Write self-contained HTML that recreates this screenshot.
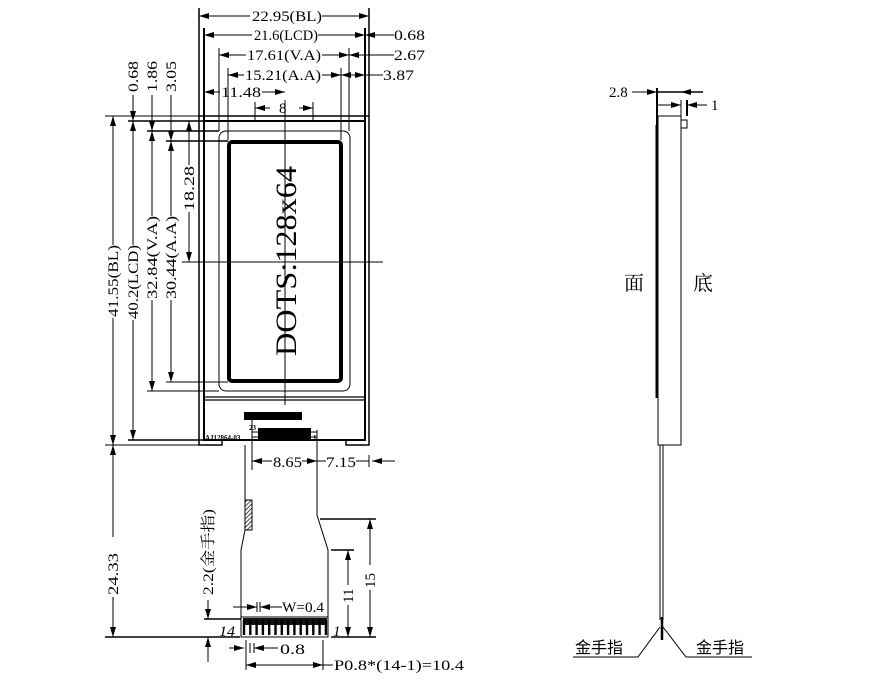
<!DOCTYPE html>
<html><head><meta charset="utf-8"><style>
html,body{margin:0;padding:0;background:#fff;}
svg{display:block;}
text{font-family:"Liberation Serif","Noto Serif CJK SC",serif;fill:#000;}
.c{font-family:"Liberation Sans","Noto Sans CJK SC",sans-serif;}
</style></head><body>
<svg width="870" height="699" viewBox="0 0 870 699" xmlns="http://www.w3.org/2000/svg">
<defs>
<marker id="a" viewBox="0 0 10 6" refX="10" refY="3" markerWidth="10" markerHeight="6" orient="auto-start-reverse" markerUnits="userSpaceOnUse"><path d="M0,0 L10,3 L0,6z" fill="#000"/></marker>
<pattern id="h" width="3" height="3" patternUnits="userSpaceOnUse" patternTransform="rotate(45)"><line x1="0" y1="0" x2="0" y2="3" stroke="#000" stroke-width="1.4"/></pattern>
</defs>
<g stroke="#000" fill="none" stroke-width="1">
<path d="M199,8 V445 H222 V440" stroke-width="1.5"/>
<path d="M369,8 V445 H346 V440" stroke-width="1.5"/>
<line x1="199" y1="116" x2="369" y2="116" stroke-width="1.5"/>
<path d="M204,28 V440 H365 V28" stroke-width="2"/>
<line x1="204" y1="121" x2="365" y2="121" stroke-width="2"/>
<line x1="204" y1="397" x2="365" y2="397" stroke-width="1.2"/>
<line x1="204" y1="400" x2="365" y2="400" stroke-width="1.2"/>
<rect x="219" y="131" width="131" height="260" rx="7" stroke-width="1"/>
<line x1="219" y1="48" x2="219" y2="131"/>
<line x1="349" y1="48" x2="349" y2="131"/>
<rect x="229" y="142" width="112" height="239" rx="3" stroke-width="4"/>
<line x1="228" y1="68" x2="228" y2="140"/>
<line x1="341" y1="68" x2="341" y2="140"/>
<line x1="285" y1="100" x2="285" y2="405"/>
<line x1="182" y1="262" x2="383" y2="262"/>
<line x1="255" y1="102" x2="255" y2="120"/>
<line x1="313" y1="102" x2="313" y2="120"/>
<line x1="105" y1="116" x2="199" y2="116"/>
<line x1="128" y1="121" x2="204" y2="121" stroke-width="1.5"/>
<line x1="147" y1="131" x2="219" y2="131" stroke-width="1.5"/>
<line x1="166" y1="141" x2="228" y2="141" stroke-width="1.5"/>
<line x1="147" y1="391" x2="219" y2="391"/>
<line x1="166" y1="382" x2="228" y2="382"/>
<line x1="128" y1="440" x2="204" y2="440" stroke-width="1.5"/>
<line x1="105" y1="445" x2="199" y2="445"/>
<line x1="199" y1="16" x2="250" y2="16" marker-start="url(#a)"/>
<line x1="322" y1="16" x2="369" y2="16" marker-end="url(#a)"/>
<line x1="204" y1="35" x2="252" y2="35" marker-start="url(#a)"/>
<line x1="318" y1="35" x2="365" y2="35" marker-end="url(#a)"/>
<line x1="365" y1="35" x2="394" y2="35" marker-start="url(#a)"/>
<line x1="219" y1="55" x2="246" y2="55" marker-start="url(#a)"/>
<line x1="322" y1="55" x2="349" y2="55" marker-end="url(#a)"/>
<line x1="349" y1="55" x2="394" y2="55" marker-start="url(#a)"/>
<line x1="228" y1="75" x2="244" y2="75" marker-start="url(#a)"/>
<line x1="322" y1="75" x2="341" y2="75" marker-end="url(#a)"/>
<line x1="341" y1="75" x2="365" y2="75" marker-start="url(#a)" marker-end="url(#a)"/>
<line x1="365" y1="75" x2="383" y2="75"/>
<line x1="204" y1="92" x2="220" y2="92" marker-start="url(#a)"/>
<line x1="262" y1="92" x2="285" y2="92" marker-end="url(#a)"/>
<line x1="255" y1="108" x2="270" y2="108" marker-start="url(#a)"/>
<line x1="299" y1="108" x2="313" y2="108" marker-end="url(#a)"/>
<line x1="133" y1="95" x2="133" y2="121" marker-end="url(#a)"/>
<line x1="152" y1="95" x2="152" y2="131" marker-end="url(#a)"/>
<line x1="171" y1="95" x2="171" y2="141" marker-end="url(#a)"/>
<line x1="113" y1="116" x2="113" y2="245" marker-start="url(#a)"/>
<line x1="113" y1="318" x2="113" y2="445" marker-end="url(#a)"/>
<line x1="133" y1="121" x2="133" y2="245" marker-start="url(#a)"/>
<line x1="133" y1="320" x2="133" y2="440" marker-end="url(#a)"/>
<line x1="152" y1="131" x2="152" y2="216" marker-start="url(#a)"/>
<line x1="152" y1="300" x2="152" y2="391" marker-end="url(#a)"/>
<line x1="171" y1="141" x2="171" y2="216" marker-start="url(#a)"/>
<line x1="171" y1="300" x2="171" y2="382" marker-end="url(#a)"/>
<line x1="189" y1="121" x2="189" y2="165" marker-start="url(#a)"/>
<line x1="189" y1="212" x2="189" y2="262" marker-end="url(#a)"/>
<line x1="113" y1="445" x2="113" y2="537" marker-start="url(#a)"/>
<line x1="113" y1="597" x2="113" y2="637" marker-end="url(#a)"/>
<line x1="105" y1="637" x2="240" y2="637" stroke-width="1.5"/>
<line x1="245" y1="445" x2="245" y2="530"/>
<line x1="252" y1="420" x2="252" y2="470"/>
<path d="M245,530 L241,550 V637"/>
<path d="M317,430 V515 L328,550 V617"/>
<rect x="245" y="500" width="7" height="30" fill="url(#h)"/>
<line x1="252" y1="461" x2="272" y2="461" marker-start="url(#a)"/>
<line x1="302" y1="461" x2="317" y2="461" marker-end="url(#a)"/>
<line x1="317" y1="461" x2="326" y2="461"/>
<line x1="356" y1="461" x2="369" y2="461"/>
<line x1="369" y1="455" x2="369" y2="467"/>
<line x1="395" y1="461" x2="372" y2="461" marker-end="url(#a)"/>
<line x1="320" y1="519" x2="376" y2="519" stroke-width="1.5"/>
<line x1="331" y1="550" x2="354" y2="550" stroke-width="1.5"/>
<line x1="331" y1="637" x2="376" y2="637" stroke-width="1.5"/>
<line x1="348" y1="550" x2="348" y2="585" marker-start="url(#a)"/>
<line x1="348" y1="605" x2="348" y2="637" marker-end="url(#a)"/>
<line x1="370" y1="519" x2="370" y2="565" marker-start="url(#a)"/>
<line x1="370" y1="590" x2="370" y2="637" marker-end="url(#a)"/>
<rect x="241" y="617" width="87" height="20"/>
<line x1="204" y1="619" x2="241" y2="619" stroke-width="1.5"/>
<line x1="208" y1="600" x2="208" y2="619" marker-end="url(#a)"/>
<line x1="208" y1="662" x2="208" y2="637" marker-end="url(#a)"/>
<line x1="233" y1="607" x2="257" y2="607" marker-end="url(#a)"/>
<line x1="282" y1="607" x2="260" y2="607" marker-end="url(#a)"/>
<line x1="257" y1="602" x2="257" y2="612"/>
<line x1="260" y1="602" x2="260" y2="612"/>
<line x1="229" y1="648" x2="244" y2="648" marker-end="url(#a)"/>
<line x1="278" y1="648" x2="254" y2="648" marker-end="url(#a)"/>
<line x1="246" y1="640" x2="246" y2="670"/>
<line x1="250" y1="643" x2="250" y2="653"/>
<line x1="254" y1="643" x2="254" y2="653"/>
<line x1="323" y1="640" x2="323" y2="670"/>
<line x1="246" y1="665" x2="323" y2="665" marker-start="url(#a)" marker-end="url(#a)"/>
<line x1="323" y1="665" x2="333" y2="665"/>
<rect x="658" y="116" width="23" height="329" stroke-width="1"/>
<line x1="657" y1="125" x2="657" y2="398" stroke-width="3"/>
<rect x="681" y="120" width="6" height="8"/>
<line x1="657" y1="88" x2="657" y2="125" stroke-width="2"/>
<line x1="681" y1="100" x2="681" y2="116"/>
<line x1="687" y1="100" x2="687" y2="116" stroke-width="2"/>
<line x1="632" y1="92" x2="657" y2="92" marker-end="url(#a)"/>
<line x1="657" y1="92" x2="703" y2="92" stroke-width="1.5"/>
<line x1="703" y1="92" x2="681" y2="92" marker-end="url(#a)"/>
<line x1="657" y1="105" x2="681" y2="105" marker-end="url(#a)"/>
<line x1="707" y1="105" x2="687" y2="105" marker-end="url(#a)"/>
<line x1="660" y1="445" x2="660" y2="620"/>
<line x1="663" y1="445" x2="663" y2="620"/>
<line x1="662" y1="617" x2="662" y2="640" stroke-width="2.5"/>
<polyline points="573,657 638,657 660,627"/>
<polyline points="663,627 686,657 752,657"/>
</g>
<rect x="244" y="412" width="58" height="8" fill="#000"/>
<rect x="258" y="428" width="53" height="13" fill="#000"/>
<line x1="252" y1="432" x2="258" y2="432" stroke="#000"/>
<line x1="252" y1="437" x2="258" y2="437" stroke="#000"/>
<line x1="311" y1="432" x2="317" y2="432" stroke="#000"/>
<line x1="311" y1="437" x2="317" y2="437" stroke="#000"/>
<rect x="243" y="618" width="84" height="7" fill="#111"/>
<g stroke="#000" stroke-width="2.4">
<line x1="244" y1="620" x2="244" y2="635"/><line x1="250.3" y1="620" x2="250.3" y2="635"/><line x1="256.6" y1="620" x2="256.6" y2="635"/><line x1="262.9" y1="620" x2="262.9" y2="635"/><line x1="269.2" y1="620" x2="269.2" y2="635"/><line x1="275.5" y1="620" x2="275.5" y2="635"/><line x1="281.8" y1="620" x2="281.8" y2="635"/><line x1="288.1" y1="620" x2="288.1" y2="635"/><line x1="294.4" y1="620" x2="294.4" y2="635"/><line x1="300.7" y1="620" x2="300.7" y2="635"/><line x1="307" y1="620" x2="307" y2="635"/><line x1="313.3" y1="620" x2="313.3" y2="635"/><line x1="319.6" y1="620" x2="319.6" y2="635"/><line x1="325.9" y1="620" x2="325.9" y2="635"/>
</g>
<g font-size="15">
<text x="252" y="21" textLength="70" lengthAdjust="spacingAndGlyphs">22.95(BL)</text>
<text x="254" y="40" textLength="64" lengthAdjust="spacingAndGlyphs">21.6(LCD)</text>
<text x="394" y="40" textLength="31" lengthAdjust="spacingAndGlyphs">0.68</text>
<text x="247" y="60" textLength="74" lengthAdjust="spacingAndGlyphs">17.61(V.A)</text>
<text x="394" y="60" textLength="31" lengthAdjust="spacingAndGlyphs">2.67</text>
<text x="245" y="80" textLength="76" lengthAdjust="spacingAndGlyphs">15.21(A.A)</text>
<text x="383" y="80" textLength="31" lengthAdjust="spacingAndGlyphs">3.87</text>
<text x="221" y="97" textLength="40" lengthAdjust="spacingAndGlyphs">11.48</text>
<text x="279" y="113">8</text>
<text x="273" y="467" textLength="29" lengthAdjust="spacingAndGlyphs">8.65</text>
<text x="326" y="467" textLength="30" lengthAdjust="spacingAndGlyphs">7.15</text>
<text x="282" y="612" textLength="42" lengthAdjust="spacingAndGlyphs">W=0.4</text>
<text x="280" y="654" textLength="25" lengthAdjust="spacingAndGlyphs">0.8</text>
<text x="334" y="670" textLength="130" lengthAdjust="spacingAndGlyphs">P0.8*(14-1)=10.4</text>
<text x="219" y="636" font-style="italic" textLength="16" lengthAdjust="spacingAndGlyphs">14</text>
<text x="333" y="636" font-style="italic">1</text>
<text x="609" y="97">2.8</text>
<text x="711" y="110">1</text>
<text transform="translate(138,92) rotate(-90)" textLength="31" lengthAdjust="spacingAndGlyphs">0.68</text>
<text transform="translate(157,92) rotate(-90)" textLength="31" lengthAdjust="spacingAndGlyphs">1.86</text>
<text transform="translate(176,92) rotate(-90)" textLength="31" lengthAdjust="spacingAndGlyphs">3.05</text>
<text transform="translate(118,317) rotate(-90)" textLength="72" lengthAdjust="spacingAndGlyphs">41.55(BL)</text>
<text transform="translate(138,319) rotate(-90)" textLength="74" lengthAdjust="spacingAndGlyphs">40.2(LCD)</text>
<text transform="translate(157,299) rotate(-90)" textLength="83" lengthAdjust="spacingAndGlyphs">32.84(V.A)</text>
<text transform="translate(176,299) rotate(-90)" textLength="83" lengthAdjust="spacingAndGlyphs">30.44(A.A)</text>
<text transform="translate(194,211) rotate(-90)" textLength="45" lengthAdjust="spacingAndGlyphs">18.28</text>
<text transform="translate(118,595) rotate(-90)" textLength="42" lengthAdjust="spacingAndGlyphs">24.33</text>
<text transform="translate(353,603) rotate(-90)">11</text>
<text transform="translate(375,588) rotate(-90)">15</text>
<text transform="translate(213,595) rotate(-90)" textLength="86" lengthAdjust="spacingAndGlyphs">2.2(金手指)</text>
</g>
<text transform="translate(296,356) rotate(-90)" font-size="30" textLength="190" lengthAdjust="spacingAndGlyphs">DOTS:128x64</text>
<text x="205" y="440" font-size="7" font-weight="bold" font-family="Liberation Sans">AJ12864-03</text>
<text x="249" y="430" font-size="7" font-weight="bold" font-family="Liberation Sans">23</text>
<text x="313" y="440" font-size="7" font-weight="bold" font-family="Liberation Sans">1</text>
<text x="624" y="290" font-size="20">面</text>
<text x="693" y="290" font-size="20">底</text>
<text class="c" x="575" y="653" font-size="16">金手指</text>
<text class="c" x="696" y="653" font-size="16">金手指</text>
</svg>
</body></html>
